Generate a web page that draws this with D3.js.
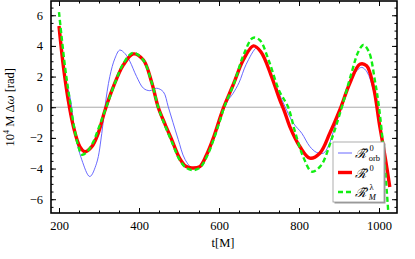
<!DOCTYPE html>
<html>
<head>
<meta charset="utf-8">
<script src="https://cdn.jsdelivr.net/npm/d3@7"></script>
<style>
  body { margin: 0; background: #fff; }
  text { font-family: "Liberation Serif", "DejaVu Serif", serif; }
</style>
</head>
<body>
<div id="chart"></div>
<script>
// data
var tOrb = [200, 215, 229, 240, 257, 277, 294, 307, 315, 327, 340, 352, 365, 377, 394, 411, 427, 444, 461, 473, 485, 498, 515, 535, 555, 572, 590, 605, 620, 635, 650, 668, 694, 702, 727, 745, 765, 786, 807, 827, 844, 861, 873, 890, 907, 927, 945, 957, 970, 985, 1000, 1012];
var vOrb = [5.3, 2.0, 0.47, -1.7, -3.43, -4.52, -3.65, -1.7, 0.04, 2.0, 3.2, 3.73, 3.5, 3.0, 2.0, 1.24, 1.08, 1.24, 1.0, 0.04, -1.0, -2.1, -3.4, -4.0, -3.8, -3.0, -1.8, -0.6, 0.35, 0.9, 1.6, 2.8, 3.88, 3.8, 2.3, 1.2, 0.04, -1.04, -1.7, -2.56, -2.95, -3.0, -2.56, -1.26, 0.04, 1.56, 2.4, 2.6, 2.3, 1.2, -0.8, -2.6];

var tR0 = [200, 211, 223, 236, 252, 265, 282, 298, 315, 336, 361, 386, 411, 432, 448, 465, 482, 502, 517, 532, 552, 569, 586, 600, 611, 636, 661, 686, 705, 730, 752, 764, 777, 802, 827, 852, 877, 902, 927, 952, 969, 986, 1002, 1015, 1027];
var vR0 = [5.3, 2.65, 0.48, -1.26, -2.57, -2.9, -2.57, -1.7, -0.2, 1.34, 2.76, 3.48, 3.08, 1.6, 0, -1.1, -2.13, -3.35, -3.85, -3.96, -3.87, -3.1, -2.0, -0.9, -0.05, 1.5, 3.1, 4.0, 3.6, 2.1, 0.48, -0.3, -1.26, -2.56, -3.32, -3.0, -1.7, -0.18, 1.56, 2.8, 2.7, 1.34, -1.26, -3.2, -5.2];

var tRM = [200, 215, 228, 240, 250, 258, 270, 285, 300, 318, 338, 362, 385, 410, 432, 448, 465, 482, 502, 518, 535, 552, 570, 588, 602, 613, 638, 662, 685, 702, 725, 750, 773, 790, 810, 832, 855, 880, 907, 932, 948, 961, 975, 990, 1000, 1012, 1025];
var vRM = [6.2, 2.65, 0.3, -1.6, -2.7, -3.1, -2.9, -2.3, -1.3, 0, 1.45, 2.9, 3.55, 3.1, 1.6, 0, -1.2, -2.25, -3.45, -3.95, -4.1, -3.95, -3.2, -2.0, -0.9, 0, 1.6, 3.45, 4.53, 4.38, 3.0, 1.1, 0, -1.6, -3.2, -4.2, -3.8, -2.2, 0, 2.3, 3.6, 4.06, 3.6, 1.7, 0, -3.0, -7.5];

var xTicks = [200, 400, 600, 800, 1000];
var yTicks = [-6, -4, -2, 0, 2, 4, 6];

// Chart set up
var svgWidth = 415;
var svgHeight = 259;

var margin = {
  top: 1,
  bottom: 46,
  right: 18,
  left: 51
};

var width = svgWidth - margin.left - margin.right;
var height = svgHeight - margin.top - margin.bottom;

var svg = d3.select("#chart")
  .append("svg")
  .attr("width", svgWidth)
  .attr("height", svgHeight);

var chartGroup = svg.append("g")
  .attr("transform", `translate(${margin.left}, ${margin.top})`);

// scales
var xScale = d3.scaleLinear()
  .domain([180, 1045])
  .range([0, width]);

var yScale = d3.scaleLinear()
  .domain([-6.9, 6.93])
  .range([height, 0]);

svg.append("defs").append("clipPath")
  .attr("id", "clip")
  .append("rect")
  .attr("width", width)
  .attr("height", height);

// zero line
chartGroup.append("line")
  .attr("x1", 0)
  .attr("x2", width)
  .attr("y1", yScale(0))
  .attr("y2", yScale(0))
  .attr("stroke", "#aaa")
  .attr("stroke-width", 1);

var line = d3.line()
  .x(d => xScale(d[0]))
  .y(d => yScale(d[1]))
  .curve(d3.curveCatmullRom.alpha(0.5));

var curves = chartGroup.append("g").attr("clip-path", "url(#clip)");

curves.append("path")
  .datum(d3.zip(tOrb, vOrb))
  .attr("d", line)
  .attr("fill", "none")
  .attr("stroke", "#5858ff")
  .attr("stroke-width", 0.9);

curves.append("path")
  .datum(d3.zip(tR0, vR0))
  .attr("d", line)
  .attr("fill", "none")
  .attr("stroke", "#ff0000")
  .attr("stroke-width", 3.4);

curves.append("path")
  .datum(d3.zip(tRM, vRM))
  .attr("d", line)
  .attr("fill", "none")
  .attr("stroke", "#11ee11")
  .attr("stroke-width", 2.4)
  .attr("stroke-dasharray", "5,3");

// frame axes, ticks inward on all four sides
var xMinor = d3.range(200, 1045, 50);
var yMinor = d3.range(-6.5, 7, 0.5);

var bottomAxis = d3.axisBottom(xScale).tickValues(xTicks).tickSize(-5).tickPadding(8).tickFormat(d3.format("d"));
var bottomMinor = d3.axisBottom(xScale).tickValues(xMinor).tickSize(-2.5).tickFormat("");
var topAxis = d3.axisTop(xScale).tickValues(xTicks).tickSize(-5).tickFormat("");
var topMinor = d3.axisTop(xScale).tickValues(xMinor).tickSize(-2.5).tickFormat("");
var leftAxis = d3.axisLeft(yScale).tickValues(yTicks).tickSize(-5).tickPadding(8).tickFormat(d => d < 0 ? "\u2212" + Math.abs(d) : d);
var leftMinor = d3.axisLeft(yScale).tickValues(yMinor).tickSize(-2.5).tickFormat("");
var rightAxis = d3.axisRight(yScale).tickValues(yTicks).tickSize(-5).tickFormat("");
var rightMinor = d3.axisRight(yScale).tickValues(yMinor).tickSize(-2.5).tickFormat("");

var axes = [
  [bottomMinor, `translate(0, ${height})`],
  [topMinor, "translate(0, 0)"],
  [leftMinor, "translate(0, 0)"],
  [rightMinor, `translate(${width}, 0)`],
  [bottomAxis, `translate(0, ${height})`],
  [topAxis, "translate(0, 0)"],
  [leftAxis, "translate(0, 0)"],
  [rightAxis, `translate(${width}, 0)`]
];

axes.forEach(function(a) {
  var g = chartGroup.append("g")
    .attr("transform", a[1])
    .call(a[0]);
  g.select(".domain").remove();
  g.selectAll(".tick line").attr("stroke", "#000").attr("stroke-width", 1);
  g.selectAll("text").attr("font-size", 12.5).attr("fill", "#000")
    .style("font-family", "'Liberation Serif', serif");
});

chartGroup.append("rect")
  .attr("width", width)
  .attr("height", height)
  .attr("fill", "none")
  .attr("stroke", "#000")
  .attr("stroke-width", 1.6);

// axis titles
var yLabel = chartGroup.append("text")
  .attr("transform", "rotate(-90)")
  .attr("x", 0 - yScale(0))
  .attr("y", -37)
  .attr("text-anchor", "middle")
  .attr("font-size", 12.5);
yLabel.append("tspan").text("10");
yLabel.append("tspan").attr("font-size", 8).attr("dy", -5).text("4");
yLabel.append("tspan").attr("dy", 5).text(" M \u0394");
yLabel.append("tspan").attr("font-style", "italic").style("font-family", "'DejaVu Serif', serif").attr("font-size", 11).text("\u03c9");
yLabel.append("tspan").text(" [rad]");

chartGroup.append("text")
  .attr("x", xScale(610))
  .attr("y", height + 34)
  .attr("text-anchor", "middle")
  .attr("font-size", 12.5)
  .text("t[M]");

// legend
var legendNames = ["orb", "", "M"];
var legendSup = ["0", "0", "\u03bb"];
var legendColors = ["#5858ff", "#ff0000", "#11ee11"];
var legendWidths = [0.9, 3.4, 2.4];
var legendDash = [null, null, "5,3"];

var legend = svg.append("g").attr("transform", "translate(333, 142)");

legend.append("rect")
  .attr("x", 1.5)
  .attr("y", 1.5)
  .attr("width", 51)
  .attr("height", 60)
  .attr("fill", "#999");

legend.append("rect")
  .attr("width", 51)
  .attr("height", 60)
  .attr("fill", "#fff")
  .attr("stroke", "#999")
  .attr("stroke-width", 0.8);

legendColors.forEach(function(c, i) {
  var yy = 11 + i * 19.5;
  legend.append("line")
    .attr("x1", 5)
    .attr("x2", 19)
    .attr("y1", yy)
    .attr("y2", yy)
    .attr("stroke", c)
    .attr("stroke-width", legendWidths[i])
    .attr("stroke-dasharray", legendDash[i]);

  var t = legend.append("text")
    .attr("x", 22)
    .attr("y", yy + 5)
    .attr("font-size", 13);
  t.append("tspan").attr("font-style", "italic").text("\u211b\u0303");
  t.append("tspan").attr("font-size", 8.5).attr("dx", 3.5).attr("dy", -7).text(legendSup[i]);
  if (legendNames[i]) {
    t.append("tspan")
      .attr("font-size", 8.5)
      .attr("dx", -5)
      .attr("dy", 10)
      .attr("font-style", legendNames[i] === "M" ? "italic" : "normal")
      .text(legendNames[i]);
  }
});
</script>
</body>
</html>
